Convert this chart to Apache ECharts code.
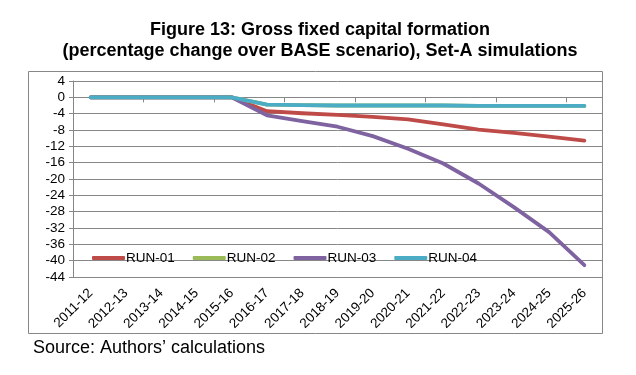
<!DOCTYPE html>
<html>
<head>
<meta charset="utf-8">
<script src="https://cdn.jsdelivr.net/npm/echarts@6/dist/echarts.min.js"></script>
<style>
html,body{margin:0;padding:0;background:#fff;}
#chart{width:636px;height:375px;}
</style>
</head>
<body>
<div id="chart"></div>
<script>
var categories = ['2011-12','2012-13','2013-14','2014-15','2015-16','2016-17','2017-18','2018-19','2019-20','2020-21','2021-22','2022-23','2023-24','2024-25','2025-26'];
var run01 = [0, 0, 0, 0, 0, -3.4, -3.9, -4.3, -4.8, -5.4, -6.6, -7.9, -8.7, -9.6, -10.6];
var run02 = [0, 0, 0, 0, 0, -1.8, -1.9, -2.0, -2.0, -2.0, -2.0, -2.1, -2.1, -2.1, -2.1];
var run03 = [0, 0, 0, 0, 0, -4.4, -5.8, -7.2, -9.5, -12.6, -16.2, -21.1, -26.9, -33.0, -41.1];
var run04 = [0, 0, 0, 0, 0, -1.8, -1.9, -2.0, -2.0, -2.0, -2.0, -2.1, -2.1, -2.1, -2.1];
var yTicks = {min: -44, max: 4, interval: 4};

var chart = echarts.init(document.getElementById('chart'), null, {renderer: 'canvas'});
var font = 'Liberation Sans, Arial, sans-serif';
function line(name, data, color) {
  return {
    name: name, type: 'line', data: data, symbol: 'none', smooth: false,
    lineStyle: {color: color, width: 3.8, cap: 'round', join: 'round'},
    itemStyle: {color: color},
    emphasis: {disabled: true}, animation: false
  };
}
chart.setOption({
  animation: false,
  title: {
    text: 'Figure 13: Gross fixed capital formation\n(percentage change over BASE scenario), Set-A simulations',
    left: 315, textAlign: 'center', top: 15,
    textStyle: {fontFamily: font, fontSize: 18, fontWeight: 'bold', color: '#000', lineHeight: 21}
  },
  graphic: [
    {type: 'rect', shape: {x: 28.5, y: 71.5, width: 574, height: 262}, style: {fill: 'none', stroke: '#878787', lineWidth: 1}, z: -1},
    {type: 'text', left: 33, top: 339, style: {text: 'Source: Authors\u2019 calculations', font: '18px Liberation Sans, Arial, sans-serif', fill: '#000'}}
  ],
  legend: {
    left: 87, top: 246, itemWidth: 33, itemHeight: 4, itemGap: 18, icon: 'roundRect',
    textStyle: {fontFamily: font, fontSize: 13.5, color: '#000', padding: [0,0,0,-4]},
    data: ['RUN-01','RUN-02','RUN-03','RUN-04']
  },
  grid: {left: 73, right: 34, top: 81, bottom: 98, containLabel: false},
  xAxis: [{
    type: 'category', data: categories, boundaryGap: true, position: 'bottom',
    axisLine: {show: true, onZero: false, lineStyle: {color: '#878787'}},
    axisTick: {show: false},
    axisLabel: {rotate: 45, fontFamily: font, fontSize: 13.5, color: '#000', margin: 14, interval: 0},
    splitLine: {show: false}
  }, {
    type: 'category', data: categories, boundaryGap: true, position: 'bottom',
    axisLine: {show: true, onZero: true, lineStyle: {color: '#878787'}},
    axisTick: {show: true, length: 5, lineStyle: {color: '#878787'}},
    axisLabel: {show: false}, splitLine: {show: false}
  }],
  yAxis: {
    type: 'value', min: yTicks.min, max: yTicks.max, interval: yTicks.interval,
    axisLine: {show: true, lineStyle: {color: '#878787'}},
    axisTick: {show: true, length: 4, lineStyle: {color: '#878787'}},
    axisLabel: {fontFamily: font, fontSize: 13.5, color: '#000', margin: 8},
    splitLine: {show: true, lineStyle: {color: '#878787', width: 1}}
  },
  series: [
    line('RUN-01', run01, '#BE4B48'),
    line('RUN-02', run02, '#9BBB59'),
    line('RUN-03', run03, '#7F63A1'),
    line('RUN-04', run04, '#4BACC6')
  ]
});
</script>
</body>
</html>
